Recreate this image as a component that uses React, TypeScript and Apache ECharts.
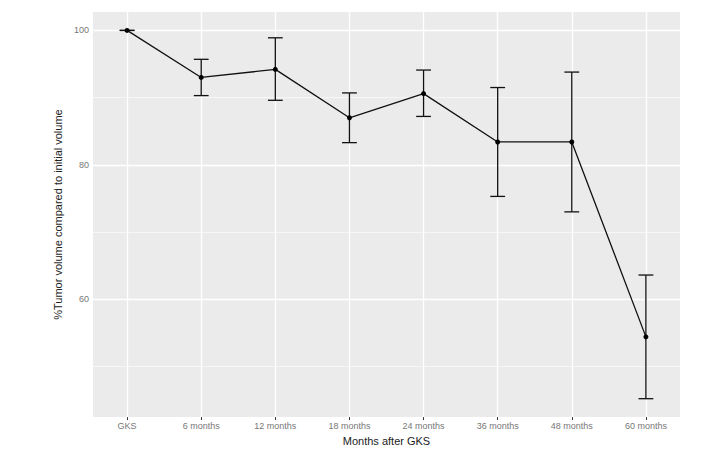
import React, { useEffect, useRef } from "react";
import * as echarts from "echarts";

const categories = ["GKS", "6 months", "12 months", "18 months", "24 months", "36 months", "48 months", "60 months"];
const meanValues = [100, 93.0, 94.2, 87.0, 90.6, 83.4, 83.4, 54.4];
const lowerValues = [100, 90.3, 89.6, 83.3, 87.2, 75.3, 73.0, 45.2];
const upperValues = [100, 95.7, 98.9, 90.7, 94.1, 91.5, 93.8, 63.6];
const yMajorTicks = [60, 80, 100];
const yMinorLines = [50, 70, 90];

export default function App() {
  const ref = useRef<HTMLDivElement>(null);
  useEffect(() => {
    if (!ref.current) return;
    const chart = echarts.init(ref.current, null, { renderer: "svg" });
    const idx = categories.map((_, i) => i);
    const font = "Liberation Sans, Arial, sans-serif";
    chart.setOption({
      animation: false,
      grid: {
        left: 93,
        right: 33,
        top: 12,
        bottom: 27,
        show: true,
        backgroundColor: "#EBEBEB",
        borderWidth: 0,
      },
      xAxis: {
        type: "value",
        min: -0.46,
        max: 7.46,
        name: "Months after GKS",
        nameLocation: "middle",
        nameGap: 14,
        nameTextStyle: { color: "#222", fontSize: 11, fontFamily: font },
        axisLine: { show: false },
        splitLine: { show: false },
        axisTick: { show: true, customValues: idx, length: 3, lineStyle: { color: "#333", width: 1 } },
        axisLabel: {
          customValues: idx,
          margin: 4,
          color: "#777",
          fontSize: 9,
          fontFamily: font,
          formatter: (v: number) => categories[Math.round(v)] ?? "",
        },
      },
      yAxis: {
        type: "value",
        min: 42.46,
        max: 102.74,
        name: "%Tumor volume compared to initial volume",
        nameLocation: "middle",
        nameGap: 19,
        nameTextStyle: { color: "#222", fontSize: 11, fontFamily: font },
        axisLine: { show: false },
        splitLine: { show: false },
        axisTick: { show: true, customValues: yMajorTicks, length: 3, lineStyle: { color: "#333", width: 1 } },
        axisLabel: {
          customValues: yMajorTicks,
          margin: 4,
          color: "#777",
          fontSize: 9,
          fontFamily: font,
        },
      },
      series: [
        {
          type: "line",
          z: 1,
          silent: true,
          data: [],
          markLine: {
            z: 1,
            silent: true,
            symbol: "none",
            label: { show: false },
            animation: false,
            data: [
              ...yMinorLines.map((v) => ({ yAxis: v, lineStyle: { color: "#fff", width: 0.6, type: "solid" } })),
              ...yMajorTicks.map((v) => ({ yAxis: v, lineStyle: { color: "#fff", width: 1.3, type: "solid" } })),
              ...idx.map((v) => ({ xAxis: v, lineStyle: { color: "#fff", width: 1.3, type: "solid" } })),
            ],
          },
        },
        {
          type: "custom",
          z: 3,
          data: idx.map((i) => [i, lowerValues[i], upperValues[i]]),
          renderItem: (params: any, api: any) => {
            const x = api.value(0);
            const lo = api.coord([x, api.value(1)]);
            const hi = api.coord([x, api.value(2)]);
            const hw = api.size([0.2, 0])[0] / 2;
            const style = { stroke: "#111", lineWidth: 1.3 };
            return {
              type: "group",
              children: [
                { type: "line", shape: { x1: lo[0], y1: lo[1], x2: hi[0], y2: hi[1] }, style },
                { type: "line", shape: { x1: hi[0] - hw, y1: hi[1], x2: hi[0] + hw, y2: hi[1] }, style },
                { type: "line", shape: { x1: lo[0] - hw, y1: lo[1], x2: lo[0] + hw, y2: lo[1] }, style },
              ],
            };
          },
        },
        {
          type: "line",
          z: 4,
          data: idx.map((i) => [i, meanValues[i]]),
          symbol: "circle",
          symbolSize: 5,
          itemStyle: { color: "#000" },
          lineStyle: { color: "#111", width: 1.3 },
        },
      ],
    });
    return () => chart.dispose();
  }, []);
  return <div ref={ref} style={{ position: "absolute", left: 0, top: 0, width: 713, height: 451 }} />;
}
